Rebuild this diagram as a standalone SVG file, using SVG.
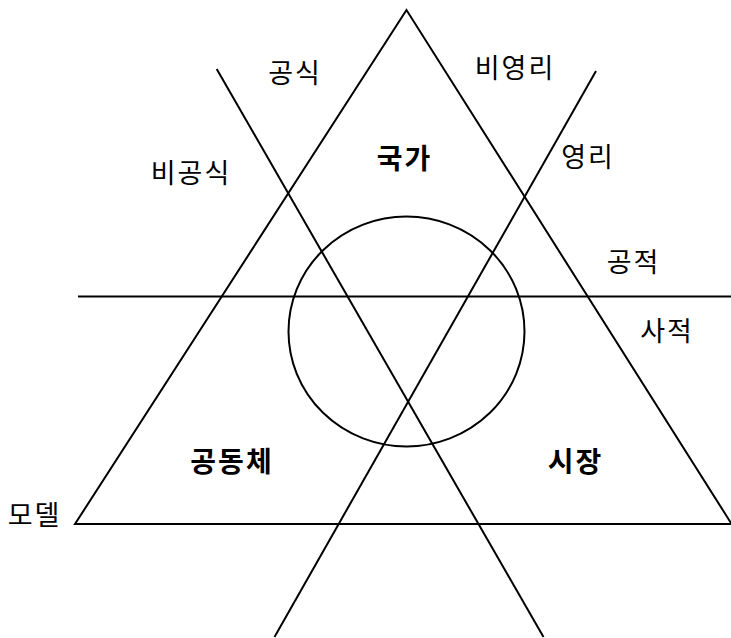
<svg xmlns="http://www.w3.org/2000/svg" width="731" height="638" viewBox="0 0 731 638">
<style>
.ln{stroke:#000;stroke-width:2;fill:none}
.t{font-family:"Noto Sans CJK KR","Noto Sans",sans-serif;font-size:27px;letter-spacing:2px;fill:#000;text-anchor:middle;dominant-baseline:central}
.b{font-weight:bold;font-size:28px}
</style>
<rect width="731" height="638" fill="#fff"/>
<g id="connectors">
<polygon class="ln" points="406.5,10 75,524 731,524 731,523"/>
<line class="ln" x1="78" y1="296.5" x2="731" y2="296.5"/>
<line class="ln" x1="216.7" y1="69" x2="543.5" y2="637"/>
<line class="ln" x1="596" y1="71" x2="274.5" y2="637"/>
</g>
<g id="circle"><ellipse class="ln" cx="406.5" cy="331.5" rx="118" ry="115"/></g>
<g id="label-gongsik"><text class="t" x="295" y="71.5">공식</text></g>
<g id="label-biyeongri"><text class="t" x="515" y="66.5">비영리</text></g>
<g id="label-bigongsik"><text class="t" x="191" y="171">비공식</text></g>
<g id="node-gukga"><text class="t b" x="404.5" y="157">국가</text></g>
<g id="label-yeongri"><text class="t" x="588" y="155">영리</text></g>
<g id="label-gongjeok"><text class="t" x="633.5" y="260.5">공적</text></g>
<g id="label-sajeok"><text class="t" x="667" y="329.5">사적</text></g>
<g id="node-gongdongche"><text class="t b" x="232" y="459.5">공동체</text></g>
<g id="node-sijang"><text class="t b" x="575.5" y="460">시장</text></g>
<g id="label-model"><text class="t" x="34.5" y="513" fill="#222">모델</text></g>
</svg>
